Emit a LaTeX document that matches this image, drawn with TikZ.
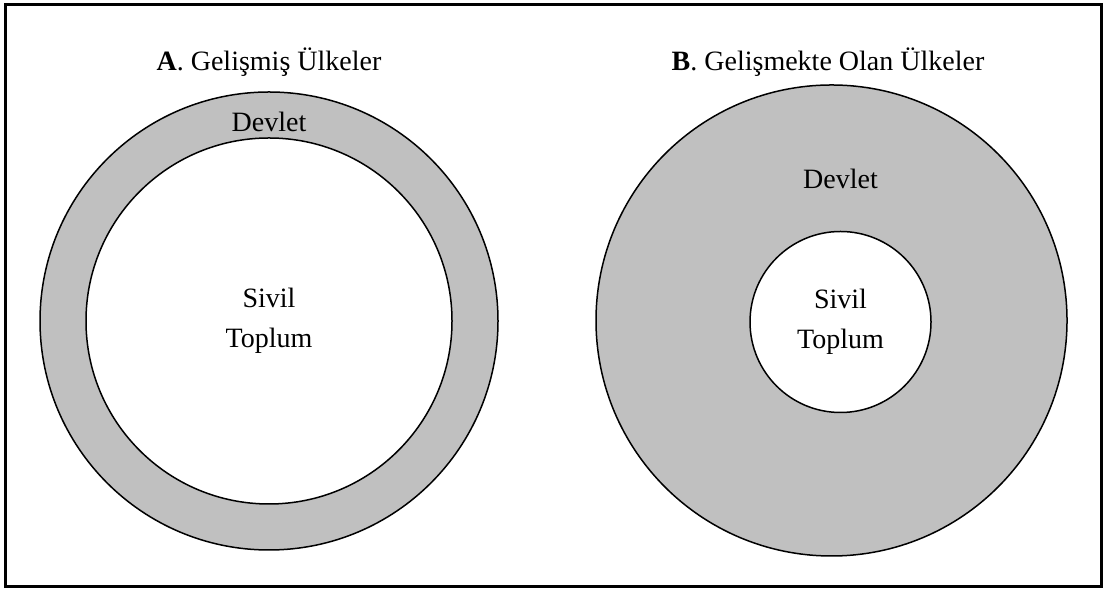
\documentclass[tikz,border=0pt]{standalone}
\usepackage{fontspec}
\setmainfont{Liberation Serif}
\usepackage{xcolor}
\usetikzlibrary{positioning}

\definecolor{devletgri}{HTML}{C0C0C0}

\begin{document}
\begin{tikzpicture}[
  x=1pt, y=1pt, % coordinates are given in points
  every node/.style={font=\fontsize{14}{20}\selectfont}, % sets the text size of every node
  devlet/.style={circle, draw, line width=0.75pt, fill=devletgri, inner sep=0pt}, % outer ring
  toplum/.style={circle, draw, line width=0.75pt, fill=white, inner sep=0pt, align=center}, % inner circle
  baslik/.style={inner sep=0pt} % title above each circle
]
    \useasboundingbox (0,0) rectangle (553,296);
    \draw[line width=1.5pt] (2.5,2.5) rectangle (550.5,293.5);

    % A. developed countries
    \node[devlet, minimum size=229pt] (devletA) at (134.5,135.5) {};
    \node[toplum, minimum size=183pt] (sivilA) at (134.5,135.5) {Sivil\\Toplum};
    \node[baslik] (baslikA) at (134.5,265) {\textbf{A}. Gelişmiş Ülkeler};
    \node[baslik, below=10pt of devletA.north] (devletAyazi) {Devlet};

    % B. developing countries
    \node[devlet, minimum size=235.5pt] (devletB) at (415.75,135.75) {};
    \node[toplum, minimum size=90.5pt] (sivilB) at (420.25,135) {Sivil\\Toplum};
    \node[baslik] (baslikB) at (414,265) {\textbf{B}. Gelişmekte Olan Ülkeler};
    \node[baslik, above=21pt of sivilB] (devletByazi) {Devlet};
  \end{tikzpicture}
\end{document}
